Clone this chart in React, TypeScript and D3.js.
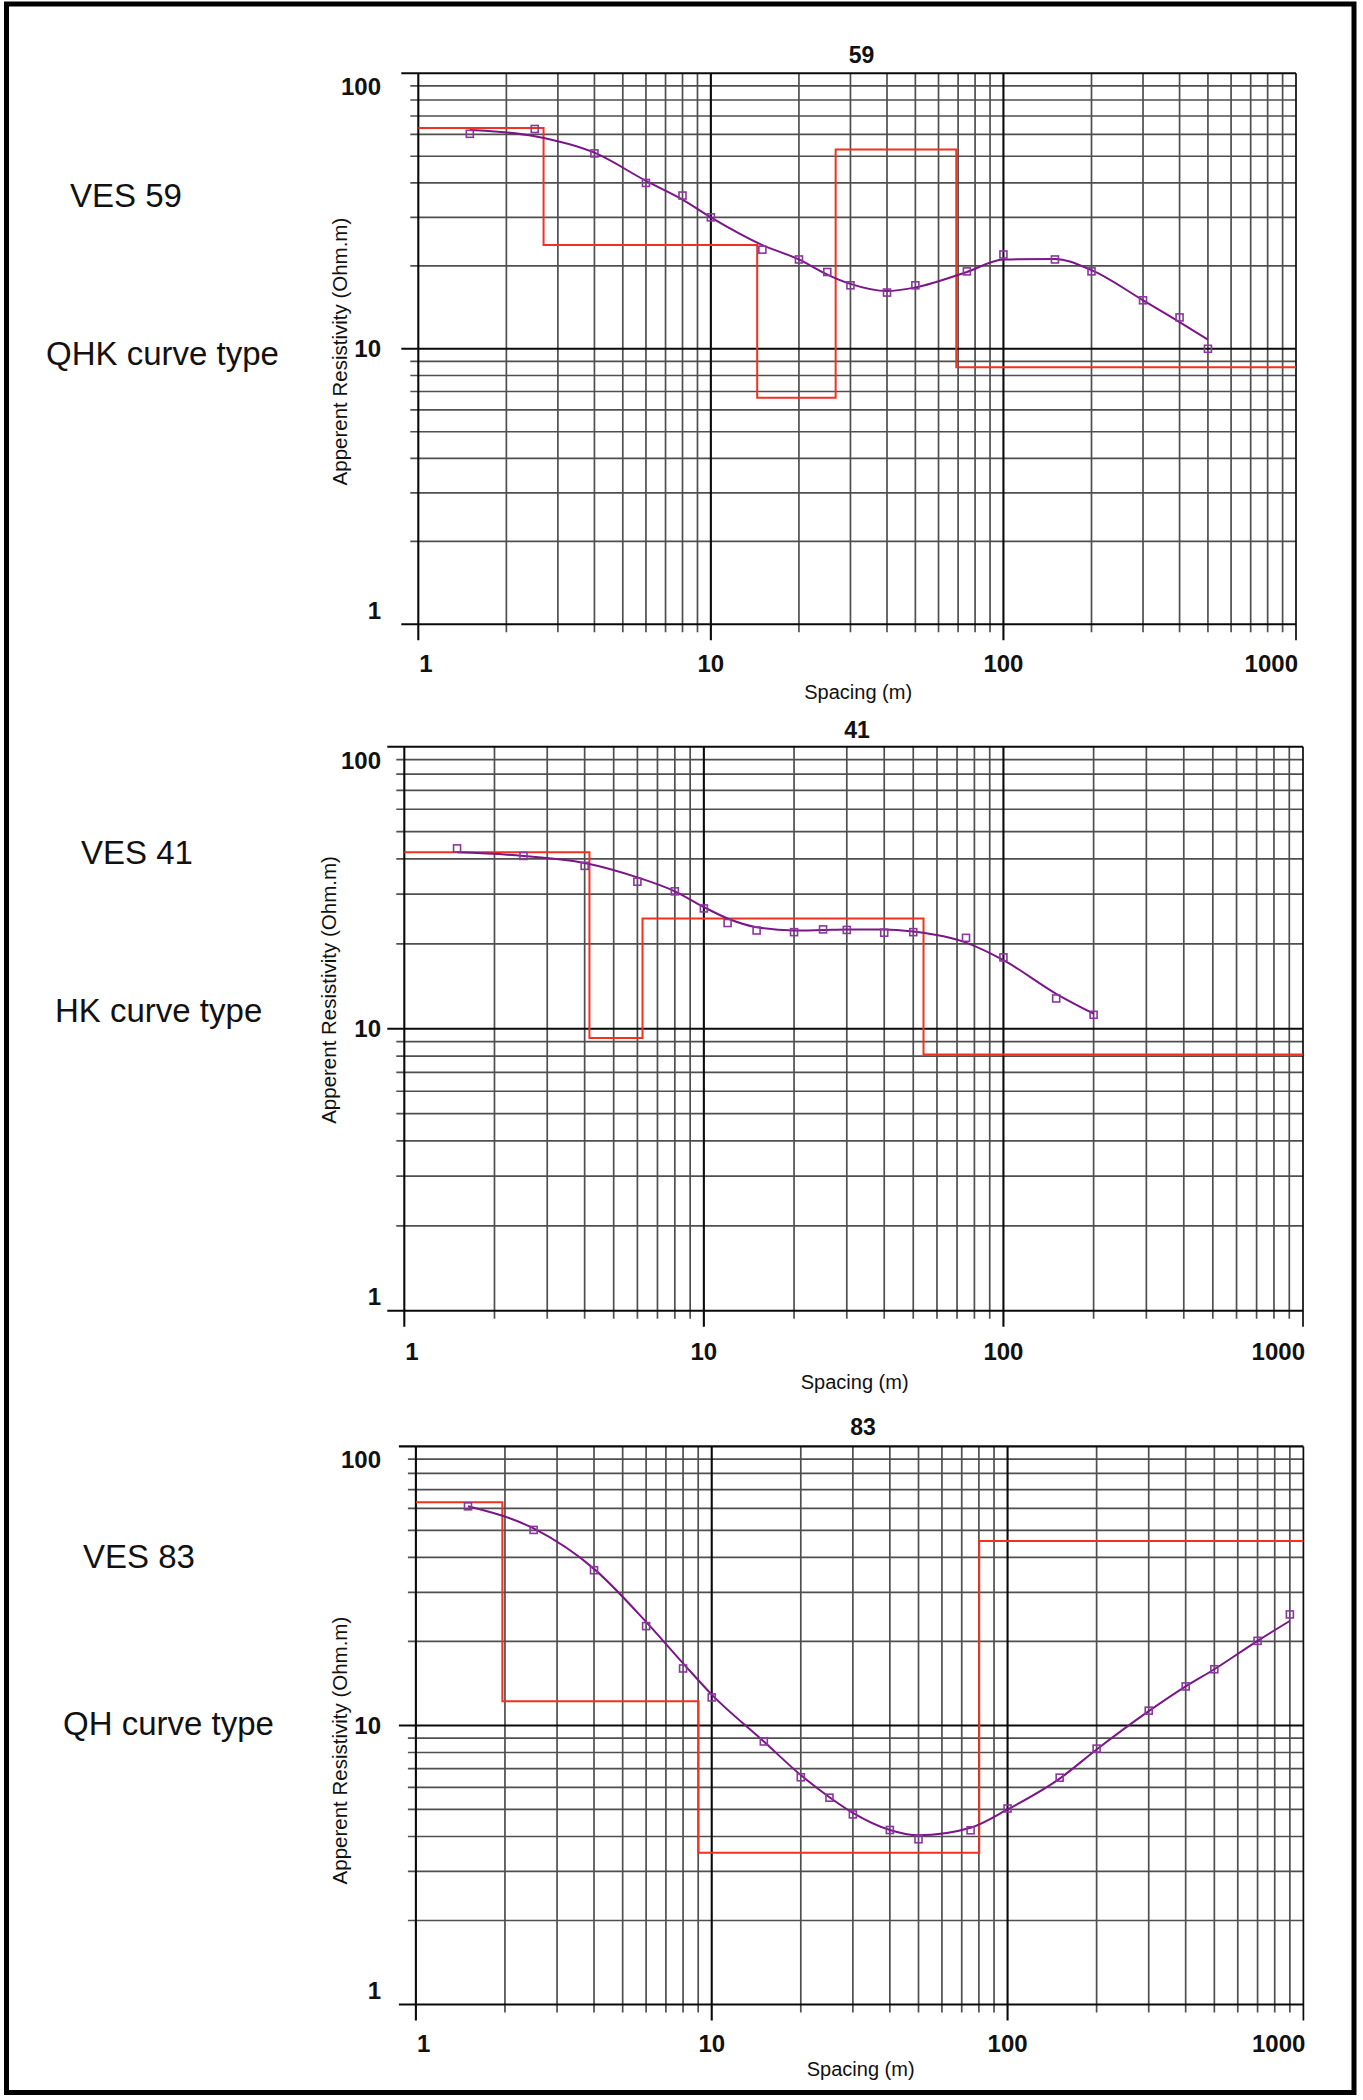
import React from "react";
import * as d3 from "d3";

// ---------------- DATA ----------------
// VES 59 (QHK curve type)
const ves59Spacing = [1.5, 2.5, 4, 6, 8, 10, 15, 20, 25, 30, 40, 50, 75, 100, 150, 200, 300, 400, 500];
const ves59Observed = [60.3, 62.8, 51.2, 40.0, 36.0, 30.0, 22.9, 21.1, 19.0, 17.0, 16.0, 17.0, 19.1, 22.0, 21.1, 19.1, 15.0, 13.0, 10.0];
const ves59Calculated = [62.3, 59.1, 51.5, 40.7, 34.8, 30.0, 23.8, 21.1, 18.6, 17.2, 16.2, 16.7, 19.0, 21.1, 21.2, 19.3, 15.0, 12.5, 10.8];
const ves59LayerRho = [63.3, 23.8, 6.64, 52.9, 8.57];
const ves59LayerDepth = [2.68, 14.4, 26.7, 69];

// VES 41 (HK curve type)
const ves41Spacing = [1.5, 2.5, 4, 6, 8, 10, 12, 15, 20, 25, 30, 40, 50, 75, 100, 150, 200];
const ves41Observed = [43.6, 41.0, 37.8, 33.2, 30.7, 26.7, 23.7, 22.3, 22.0, 22.5, 22.4, 21.9, 22.0, 21.0, 17.9, 12.8, 11.2];
const ves41Calculated = [42.2, 41.0, 38.7, 34.4, 30.7, 27.0, 24.6, 22.9, 22.3, 22.4, 22.5, 22.5, 22.1, 20.2, 17.5, 13.3, 11.3];
const ves41LayerRho = [42.2, 9.27, 24.6, 8.1];
const ves41LayerDepth = [4.15, 6.24, 54.1];

// VES 83 (QH curve type)
const ves83Spacing = [1.5, 2.5, 4, 6, 8, 10, 15, 20, 25, 30, 40, 50, 75, 100, 150, 200, 300, 400, 500, 700, 900];
const ves83Observed = [61.0, 50.2, 36.0, 22.7, 16.0, 12.6, 8.76, 6.52, 5.51, 4.80, 4.22, 3.91, 4.21, 5.04, 6.50, 8.26, 11.3, 13.8, 15.9, 20.1, 25.0];
const ves83Calculated = [61.0, 50.8, 36.4, 23.5, 16.7, 12.9, 8.76, 6.64, 5.53, 4.86, 4.22, 4.04, 4.30, 5.00, 6.45, 8.2, 11.25, 13.8, 15.9, 20.1, 23.7];
const ves83LayerRho = [63.1, 12.2, 3.5, 45.8];
const ves83LayerDepth = [1.96, 9.02, 80.2];

const xTickValues = [1, 10, 100, 1000];
const xTickLabels = ["1", "10", "100", "1000"];
const yTickValues = [1, 10, 100];
const yTickLabels = ["1", "10", "100"];
const minorMultipliers = [2, 3, 4, 5, 6, 7, 8, 9];

const titles = ["59", "41", "83"];
const vesLabels = ["VES 59", "VES 41", "VES 83"];
const curveLabels = ["QHK curve type", "HK curve type", "QH curve type"];
const xAxisTitle = "Spacing (m)";
const yAxisTitle = "Apperent Resistivity (Ohm.m)";

// ---------------- LAYOUT ----------------
const W = 1363;
const H = 2100;
const FONT = "'Liberation Sans', Arial, Helvetica, sans-serif";

const layouts = [
  { x0: 418.3, x1: 1296, yTop: 73.3, yBot: 624.3, titleX: 861.6, titleY: 55, xLabY: 663, xTitleY: 693, yTitleX: 342, yTitleY: 351.6, vesX: 70, vesY: 206.6, curveX: 46, curveY: 365 },
  { x0: 404.3, x1: 1303, yTop: 746.7, yBot: 1310.7, titleX: 857, titleY: 729.5, xLabY: 1351.8, xTitleY: 1383, yTitleX: 331, yTitleY: 990, vesX: 81, vesY: 864.3, curveX: 55, curveY: 1021.5 },
  { x0: 415.9, x1: 1303.4, yTop: 1446.4, yBot: 2004.5, titleX: 863, titleY: 1426.8, xLabY: 2042.9, xTitleY: 2069.6, yTitleX: 342, yTitleY: 1750.6, vesX: 83, vesY: 1568, curveX: 63, curveY: 1735 },
];

const datasets = [
  { spacing: ves59Spacing, observed: ves59Observed, calculated: ves59Calculated, rho: ves59LayerRho, depth: ves59LayerDepth },
  { spacing: ves41Spacing, observed: ves41Observed, calculated: ves41Calculated, rho: ves41LayerRho, depth: ves41LayerDepth },
  { spacing: ves83Spacing, observed: ves83Observed, calculated: ves83Calculated, rho: ves83LayerRho, depth: ves83LayerDepth },
];

const GRID = "#4f4f4f";
const MAJOR = "#0a0a0a";
const RED = "#f2311f";
const CURVE = "#7a1688";
const MARK = "#8c36a0";

function Panel({ idx }: { idx: number }) {
  const L = layouts[idx];
  const D = datasets[idx];
  const x = d3.scaleLog().domain([1, 1000]).range([L.x0, L.x1]);
  const y = d3.scaleLog().domain([1, 100]).range([L.yBot, L.yTop]);

  const minorX: number[] = [];
  [1, 10, 100].forEach((d) => minorMultipliers.forEach((m) => minorX.push(d * m)));
  const minorY: number[] = [];
  [1, 10].forEach((d) => minorMultipliers.forEach((m) => minorY.push(d * m)));

  // model step line
  const bounds = [1, ...D.depth, 1000];
  const stepPts: [number, number][] = [];
  D.rho.forEach((r, i) => {
    stepPts.push([x(bounds[i]), y(r)]);
    stepPts.push([x(bounds[i + 1]), y(r)]);
  });
  const stepPath = d3.line()(stepPts) || "";

  const curvePath =
    d3
      .line<number>()
      .x((_, i) => x(D.spacing[i]))
      .y((v) => y(v))
      .curve(d3.curveMonotoneX)(D.calculated) || "";

  const sq = 7;

  return (
    <g>
      {/* minor vertical gridlines */}
      {minorX.map((v) => (
        <line key={"mx" + v} x1={x(v)} x2={x(v)} y1={L.yTop} y2={L.yBot + 8} stroke={GRID} strokeWidth={1.7} />
      ))}
      {/* minor horizontal gridlines */}
      {minorY.map((v) => (
        <line key={"my" + v} x1={L.x0 - 8} x2={L.x1} y1={y(v)} y2={y(v)} stroke={GRID} strokeWidth={1.7} />
      ))}
      {/* major lines */}
      {xTickValues.map((v) => (
        <line key={"Mx" + v} x1={x(v)} x2={x(v)} y1={L.yTop} y2={L.yBot + 16} stroke={MAJOR} strokeWidth={v === 1000 ? 1.7 : 2.1} />
      ))}
      {yTickValues.map((v) => (
        <line key={"My" + v} x1={L.x0 - 17} x2={L.x1} y1={y(v)} y2={y(v)} stroke={MAJOR} strokeWidth={2.1} />
      ))}

      {/* model */}
      <path d={stepPath} fill="none" stroke={RED} strokeWidth={2} />
      {/* calculated curve */}
      <path d={curvePath} fill="none" stroke={CURVE} strokeWidth={2} />
      {/* observed points */}
      {D.spacing.map((s, i) => (
        <rect
          key={"p" + i}
          x={x(s) - sq / 2}
          y={y(D.observed[i]) - sq / 2}
          width={sq}
          height={sq}
          fill="none"
          stroke={MARK}
          strokeWidth={1.6}
        />
      ))}

      {/* title */}
      <text x={L.titleX} y={L.titleY + 8.2} textAnchor="middle" fontFamily={FONT} fontWeight="bold" fontSize={23} fill="#111">
        {titles[idx]}
      </text>

      {/* y tick labels */}
      {yTickValues.map((v, i) => {
        let cy = y(v);
        if (v === 100) cy = L.yTop + 13.4;
        if (v === 1) cy = L.yBot - 14;
        return (
          <text key={"yl" + v} x={381} y={cy + 8.6} textAnchor="end" fontFamily={FONT} fontWeight="bold" fontSize={24} fill="#111">
            {yTickLabels[i]}
          </text>
        );
      })}

      {/* x tick labels */}
      {xTickValues.map((v, i) => {
        const anchor = i === 0 ? "start" : i === xTickValues.length - 1 ? "end" : "middle";
        const px = i === 0 ? x(v) + 1 : i === xTickValues.length - 1 ? x(v) + 2 : x(v);
        return (
          <text key={"xl" + v} x={px} y={L.xLabY + 8.6} textAnchor={anchor} fontFamily={FONT} fontWeight="bold" fontSize={24} fill="#111">
            {xTickLabels[i]}
          </text>
        );
      })}

      {/* axis titles */}
      <text x={(L.x0 + L.x1) / 2 + 1} y={L.xTitleY + 6} textAnchor="middle" fontFamily={FONT} fontSize={20} fill="#111">
        {xAxisTitle}
      </text>
      <text
        transform={`translate(${L.yTitleX + 5},${L.yTitleY}) rotate(-90)`}
        textAnchor="middle"
        fontFamily={FONT}
        fontSize={20.5}
        fill="#111"
      >
        {yAxisTitle}
      </text>

      {/* left labels */}
      <text x={L.vesX} y={L.vesY} fontFamily={FONT} fontSize={33} fill="#111">
        {vesLabels[idx]}
      </text>
      <text x={L.curveX} y={L.curveY} fontFamily={FONT} fontSize={33} fill="#111">
        {curveLabels[idx]}
      </text>
    </g>
  );
}

export default function App() {
  return (
    <div style={{ position: "absolute", left: 0, top: 0, width: W, height: H, background: "#fff" }}>
      <svg width={W} height={H} viewBox={`0 0 ${W} ${H}`} style={{ display: "block" }}>
        <rect x={0} y={0} width={W} height={H} fill="#fff" />
        <rect x={6.5} y={4} width={1347.5} height={2088.5} fill="none" stroke="#000" strokeWidth={5} />
        {[0, 1, 2].map((i) => (
          <Panel key={i} idx={i} />
        ))}
      </svg>
    </div>
  );
}
